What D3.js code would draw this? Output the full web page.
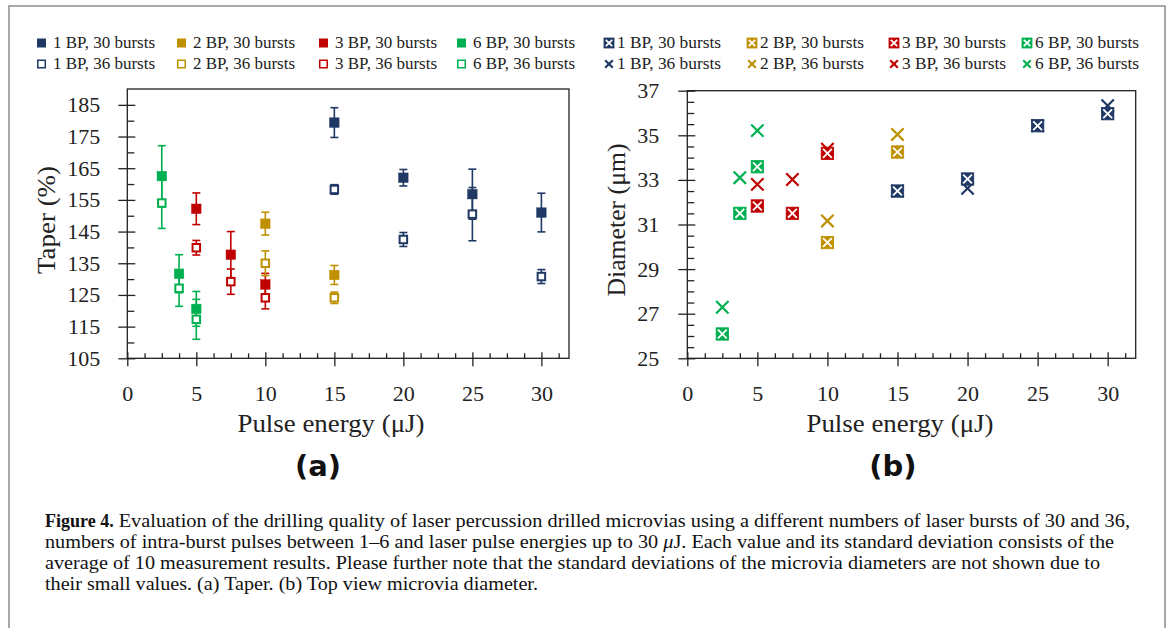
<!DOCTYPE html>
<html>
<head>
<meta charset="utf-8">
<script src="https://cdn.jsdelivr.net/npm/d3@7"></script>
<style>
  body { margin: 0; background: #fff; }
  svg { display: block; }
</style>
</head>
<body>
<svg id="fig" width="1171" height="628"></svg>
<script>
// pulse energies (µJ) used for each number of burst pulses
const energy1BP = [15, 20, 25, 30];
const energy2BP = [10, 15];
const energy3BP = [5, 7.5, 10];
const energy6BP = [2.5, 3.75, 5];

// (a) taper in %, mean and standard deviation
const taper1BP30 = [179.4, 162.0, 156.8, 151.0];
const taperErr1BP30 = [4.7, 2.6, 7.9, 6.1];
const taper1BP36 = [158.3, 142.5, 150.5, 130.8];
const taperErr1BP36 = [1.5, 2.2, 8.4, 2.2];
const taper2BP30 = [147.5, 131.3];
const taperErr2BP30 = [3.6, 3.0];
const taper2BP36 = [135.0, 124.1];
const taperErr2BP36 = [3.9, 1.8];
const taper3BP30 = [152.2, 137.7, 128.3];
const taperErr3BP30 = [5.0, 7.3, 3.5];
const taper3BP36 = [139.9, 129.2, 124.1];
const taperErr3BP36 = [2.3, 4.0, 3.5];
const taper6BP30 = [162.5, 131.7, 120.6];
const taperErr6BP30 = [9.6, 6.0, 5.5];
const taper6BP36 = [154.0, 127.1, 117.3];
const taperErr6BP36 = [8.0, 5.7, 6.3];

// (b) top view diameter in µm
const diam1BP30 = [32.50, 33.04, 35.43, 35.97];
const diam1BP36 = [32.50, 32.62, 35.43, 36.33];
const diam2BP30 = [30.19, 34.25];
const diam2BP36 = [31.16, 35.04];
const diam3BP30 = [31.83, 31.50, 34.19];
const diam3BP36 = [32.80, 33.02, 34.38];
const diam6BP30 = [26.09, 31.50, 33.59];
const diam6BP36 = [27.29, 33.10, 35.21];

// ticks
const xTicks = [0, 5, 10, 15, 20, 25, 30];
const taperTicks = [105, 115, 125, 135, 145, 155, 165, 175, 185];
const diamTicks = [25, 27, 29, 31, 33, 35, 37];

const legendLabels = ['1 BP, 30 bursts', '2 BP, 30 bursts', '3 BP, 30 bursts', '6 BP, 30 bursts',
                      '1 BP, 36 bursts', '2 BP, 36 bursts', '3 BP, 36 bursts', '6 BP, 36 bursts'];

const captionLines = [
  'Evaluation of the drilling quality of laser percussion drilled microvias using a different numbers of laser bursts of 30 and 36,',
  'numbers of intra-burst pulses between 1\u20136 and laser pulse energies up to 30 ',
  'average of 10 measurement results. Please further note that the standard deviations of the microvia diameters are not shown due to',
  'their small values. (a) Taper. (b) Top view microvia diameter.'
];

const colors = { '1BP': '#1F3864', '2BP': '#BF9000', '3BP': '#C00000', '6BP': '#00B050' };
const serif = "'Liberation Serif', 'Times New Roman', serif";

const taperSeries = [
  { c: colors['1BP'], open: false, x: energy1BP, y: taper1BP30, e: taperErr1BP30 },
  { c: colors['2BP'], open: false, x: energy2BP, y: taper2BP30, e: taperErr2BP30 },
  { c: colors['3BP'], open: false, x: energy3BP, y: taper3BP30, e: taperErr3BP30 },
  { c: colors['6BP'], open: false, x: energy6BP, y: taper6BP30, e: taperErr6BP30 },
  { c: colors['1BP'], open: true, x: energy1BP, y: taper1BP36, e: taperErr1BP36 },
  { c: colors['2BP'], open: true, x: energy2BP, y: taper2BP36, e: taperErr2BP36 },
  { c: colors['3BP'], open: true, x: energy3BP, y: taper3BP36, e: taperErr3BP36 },
  { c: colors['6BP'], open: true, x: energy6BP, y: taper6BP36, e: taperErr6BP36 }
];

// crosses (36 bursts) first, boxed crosses (30 bursts) on top
const diamSeries = [
  { c: colors['1BP'], box: false, x: energy1BP, y: diam1BP36 },
  { c: colors['2BP'], box: false, x: energy2BP, y: diam2BP36 },
  { c: colors['3BP'], box: false, x: energy3BP, y: diam3BP36 },
  { c: colors['6BP'], box: false, x: energy6BP, y: diam6BP36 },
  { c: colors['1BP'], box: true, x: energy1BP, y: diam1BP30 },
  { c: colors['2BP'], box: true, x: energy2BP, y: diam2BP30 },
  { c: colors['3BP'], box: true, x: energy3BP, y: diam3BP30 },
  { c: colors['6BP'], box: true, x: energy6BP, y: diam6BP30 }
];

const svg = d3.select('#fig');
svg.append('rect').attr('width', 1171).attr('height', 628).attr('fill', '#fff');

// outer figure border
svg.append('rect')
  .attr('x', 9).attr('y', 6).attr('width', 1156).attr('height', 640)
  .attr('fill', 'none').attr('stroke', '#8a8a8a').attr('stroke-width', 1.5);

function drawAxes(g, x, y, yTicks, yMinor, opt) {
  const [x0, x1] = x.range();
  const [yb, yt] = y.range();

  // frame
  g.append('rect')
    .attr('x', x0).attr('y', yt).attr('width', x1 - x0).attr('height', yb - yt)
    .attr('fill', 'none').attr('stroke', '#222').attr('stroke-width', 1.3);

  const xMinor = d3.range(0, 32, 1.25).filter(v => v % 5 !== 0);

  const xa = g.append('g').attr('transform', `translate(0,${yb})`)
    .call(d3.axisBottom(x).tickValues(xTicks).tickSize(8).tickPadding(19).tickFormat(d3.format('d')));
  const xm = g.append('g').attr('transform', `translate(0,${yb})`)
    .call(d3.axisBottom(x).tickValues(xMinor).tickSize(-5).tickFormat(''));
  xa.selectAll('.tick line').attr('y1', -6);

  const ya = g.append('g').attr('transform', `translate(${x0},0)`)
    .call(d3.axisLeft(y).tickValues(yTicks).tickSize(9).tickPadding(opt.yPad));
  const ym = g.append('g').attr('transform', `translate(${x0},0)`)
    .call(d3.axisLeft(y).tickValues(yMinor).tickSize(-7).tickFormat(''));
  ya.selectAll('.tick line').attr('x1', 8);

  [xa, xm, ya, ym].forEach(a => {
    a.select('.domain').remove();
    a.selectAll('.tick line').attr('stroke', '#222').attr('stroke-width', 1.3);
    a.selectAll('text').attr('font-family', serif).attr('font-size', 22).attr('fill', '#222');
  });

  // axis titles
  g.append('text')
    .attr('x', opt.xTitleX).attr('y', 432)
    .attr('text-anchor', 'middle')
    .attr('font-family', serif).attr('font-size', 25).attr('fill', '#222')
    .attr('textLength', 187).attr('lengthAdjust', 'spacingAndGlyphs')
    .text('Pulse energy (\u03bcJ)');

  g.append('text')
    .attr('transform', `translate(${opt.yTitleX},220) rotate(-90)`)
    .attr('text-anchor', 'middle')
    .attr('font-family', serif).attr('font-size', 25).attr('fill', '#222')
    .attr('textLength', opt.yTitleLen).attr('lengthAdjust', 'spacingAndGlyphs')
    .text(opt.yTitle);

  g.append('text')
    .attr('x', opt.tagX).attr('y', 476)
    .attr('text-anchor', 'middle')
    .attr('font-family', "'DejaVu Sans', sans-serif").attr('font-weight', 'bold')
    .attr('font-size', 29).attr('fill', '#111')
    .text(opt.tag);
}

// ---------- (a) taper ----------
const xA = d3.scaleLinear().domain([0, 32]).range([127.3, 569]);
const yA = d3.scaleLinear().domain([105, 190]).range([358.3, 89]);
const gA = svg.append('g');
drawAxes(gA, xA, yA, taperTicks, d3.range(110, 185, 10), {
  yPad: 18, xTitleX: 331, yTitleX: 55, yTitle: 'Taper (%)', yTitleLen: 108, tag: '(a)', tagX: 318
});

taperSeries.forEach(s => {
  const pts = s.x.map((v, i) => ({ x: v, y: s.y[i], e: s.e[i] }));
  const sg = gA.append('g');
  const eb = sg.selectAll('g.err').data(pts).join('g').attr('class', 'err')
    .attr('stroke', s.c).attr('stroke-width', 1.6);
  eb.append('line')
    .attr('x1', d => xA(d.x)).attr('x2', d => xA(d.x))
    .attr('y1', d => yA(d.y - d.e)).attr('y2', d => yA(d.y + d.e));
  eb.append('line')
    .attr('x1', d => xA(d.x) - 4).attr('x2', d => xA(d.x) + 4)
    .attr('y1', d => yA(d.y + d.e)).attr('y2', d => yA(d.y + d.e));
  eb.append('line')
    .attr('x1', d => xA(d.x) - 4).attr('x2', d => xA(d.x) + 4)
    .attr('y1', d => yA(d.y - d.e)).attr('y2', d => yA(d.y - d.e));

  const sz = s.open ? 7.5 : 9.5;
  sg.selectAll('rect').data(pts).join('rect')
    .attr('x', d => xA(d.x) - sz / 2).attr('y', d => yA(d.y) - sz / 2)
    .attr('width', sz).attr('height', sz)
    .attr('fill', s.open ? '#fff' : s.c)
    .attr('stroke', s.c).attr('stroke-width', s.open ? 2 : 0.5);
});

// ---------- (b) diameter ----------
const xB = d3.scaleLinear().domain([0, 32]).range([687.3, 1135.7]);
const yB = d3.scaleLinear().domain([25, 37]).range([358.3, 90.7]);
const gB = svg.append('g');
drawAxes(gB, xB, yB, diamTicks, d3.range(25.5, 37, 0.5).filter(v => (v - 25) % 2 !== 0), {
  yPad: 19, xTitleX: 900, yTitleX: 625, yTitle: 'Diameter (\u03bcm)', yTitleLen: 153, tag: '(b)', tagX: 893
});

function boxMark(sel, c, r, inset) {
  sel.append('rect')
    .attr('x', -r).attr('y', -r).attr('width', 2 * r).attr('height', 2 * r)
    .attr('fill', c).attr('stroke', c).attr('stroke-width', 0.8);
  const k = r - inset;
  sel.append('path')
    .attr('d', `M${-k},${-k}L${k},${k}M${-k},${k}L${k},${-k}`)
    .attr('stroke', '#fff').attr('stroke-width', 1.8);
}
function crossMark(sel, c, r) {
  sel.append('path')
    .attr('d', `M${-r},${-r}L${r},${r}M${-r},${r}L${r},${-r}`)
    .attr('stroke', c).attr('stroke-width', 2.2).attr('fill', 'none');
}

diamSeries.forEach(s => {
  const pts = s.x.map((v, i) => ({ x: v, y: s.y[i] }));
  const m = gB.append('g').selectAll('g').data(pts).join('g')
    .attr('transform', d => `translate(${xB(d.x)},${yB(d.y)})`);
  if (s.box) boxMark(m, s.c, 6.2, 1.8); else crossMark(m, s.c, 6.2);
});

// ---------- legends ----------
const legLeftX = [37, 177, 319, 457];
const legRightX = [604, 747, 889, 1022];
const legRowY = [43, 64];
const seriesColors = [colors['1BP'], colors['2BP'], colors['3BP'], colors['6BP']];

legendLabels.forEach((lab, i) => {
  const col = i % 4, row = Math.floor(i / 4), c = seriesColors[col];

  // left legend: squares
  const lx = legLeftX[col], ly = legRowY[row];
  const lg = svg.append('g').attr('transform', `translate(${lx},${ly})`);
  if (row === 0) {
    lg.append('rect').attr('x', 0).attr('y', -4.5).attr('width', 9).attr('height', 9).attr('fill', c);
  } else {
    lg.append('rect').attr('x', 0.75).attr('y', -3.75).attr('width', 7.5).attr('height', 7.5)
      .attr('fill', '#fff').attr('stroke', c).attr('stroke-width', 1.5);
  }
  lg.append('text').attr('x', 16).attr('y', 5)
    .attr('font-family', serif).attr('font-size', 16.5).attr('fill', '#222')
    .attr('textLength', 102).attr('lengthAdjust', 'spacingAndGlyphs')
    .text(lab);

  // right legend: boxed cross / cross
  const rx = legRightX[col];
  const rg = svg.append('g').attr('transform', `translate(${rx},${ly})`);
  const mk = rg.append('g').attr('transform', 'translate(5,0)');
  if (row === 0) boxMark(mk, c, 5, 1.8); else crossMark(mk, c, 3.8);
  rg.append('text').attr('x', 13).attr('y', 5)
    .attr('font-family', serif).attr('font-size', 16.5).attr('fill', '#222')
    .attr('textLength', 104).attr('lengthAdjust', 'spacingAndGlyphs')
    .text(lab);
});

// ---------- caption ----------
const capX = 45;
const capEnds = [1130, 1114, 1100, 538];
const capY = [527, 548, 569, 590];

const fig = svg.append('text').attr('x', capX).attr('y', capY[0])
  .attr('font-family', serif).attr('font-size', 18).attr('font-weight', 'bold').attr('fill', '#111')
  .text('Figure 4.');
const figW = fig.node().getComputedTextLength() + 5;

captionLines.forEach((line, i) => {
  const sx = i === 0 ? capX + figW : capX;
  const t = svg.append('text').attr('x', sx).attr('y', capY[i])
    .attr('font-family', serif).attr('font-size', 18).attr('fill', '#111')
    .attr('textLength', capEnds[i] - sx).attr('lengthAdjust', 'spacingAndGlyphs');
  t.append('tspan').text(line);
  if (i === 1) {
    t.append('tspan').attr('font-style', 'italic').text('\u03bc');
    t.append('tspan').text('J. Each value and its standard deviation consists of the');
  }
});
</script>
</body>
</html>
